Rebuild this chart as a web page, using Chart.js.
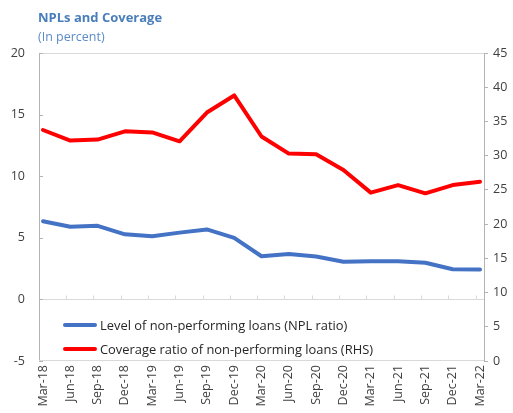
<!DOCTYPE html>
<html>
<head>
<meta charset="utf-8">
<script src="https://cdn.jsdelivr.net/npm/chart.js@4"></script>
<style>
  html, body { margin: 0; padding: 0; background: #fff; }
  #wrap { position: relative; width: 513px; height: 413px; font-family: "Open Sans", "Noto Sans", sans-serif; }
  canvas { position: absolute; left: 0; top: 0; }
  .t1 { position: absolute; left: 38px; top: 8px; font-size: 13px; font-weight: bold; color: #4a7ebb; white-space: nowrap; }
  .t2 { position: absolute; left: 38px; top: 28px; font-size: 12.5px; color: #5b8cc8; white-space: nowrap; }
  .lg { position: absolute; left: 63px; height: 20px; display: flex; align-items: center; font-size: 12.9px; color: #262626; white-space: nowrap; background: #fff; }
  .lg span.sw { display: inline-block; width: 34px; height: 4px; border-radius: 2px; margin-right: 3px; }
</style>
</head>
<body>
<div id="wrap">
  <canvas id="c" width="513" height="413"></canvas>
  <div class="t1">NPLs and Coverage</div>
  <div class="t2">(In percent)</div>
  <div class="lg" id="lg1" style="top:315px;"><span class="sw" style="background:#4472c4"></span>Level of non-performing loans (NPL ratio)</div>
  <div class="lg" id="lg2" style="top:339px;"><span class="sw" style="background:#ff0000"></span>Coverage ratio of non-performing loans (RHS)</div>
</div>
<script>
const categories = ["Mar-18","Jun-18","Sep-18","Dec-18","Mar-19","Jun-19","Sep-19","Dec-19","Mar-20","Jun-20","Sep-20","Dec-20","Mar-21","Jun-21","Sep-21","Dec-21","Mar-22"];
const nplRatio = [6.35, 5.9, 5.97, 5.28, 5.12, 5.42, 5.68, 5.0, 3.5, 3.68, 3.48, 3.05, 3.1, 3.1, 2.98, 2.45, 2.43];
const coverageRatio = [33.75, 32.2, 32.35, 33.55, 33.4, 32.1, 36.3, 38.8, 32.8, 30.3, 30.2, 27.9, 24.6, 25.7, 24.5, 25.7, 26.2];
const leftTicks = [-5, 0, 5, 10, 15, 20];
const rightTicks = [0, 5, 10, 15, 20, 25, 30, 35, 40, 45];

const FONT = { family: '"Open Sans", "Noto Sans", sans-serif', size: 12.5 };
const TICKCOL = '#404040';
const AXISCOL = '#b3b3b3';
const LIGHT = '#d9d9d9';

const framePlugin = {
  id: 'frame',
  beforeDatasetsDraw(chart) {
    const { ctx, chartArea: a, scales } = chart;
    const y = scales.y, x = scales.x;
    ctx.save();
    ctx.lineWidth = 1;
    ctx.strokeStyle = LIGHT;
    ctx.beginPath();
    ctx.moveTo(a.left, Math.round(a.top) + 0.5); ctx.lineTo(a.right, Math.round(a.top) + 0.5);
    ctx.moveTo(a.left, Math.round(a.bottom) - 0.5); ctx.lineTo(a.right, Math.round(a.bottom) - 0.5);
    const y0 = Math.round(y.getPixelForValue(0)) + 0.5;
    ctx.moveTo(a.left, y0); ctx.lineTo(a.right, y0);
    ctx.stroke();
    ctx.beginPath();
    for (let i = 0; i < categories.length - 1; i++) {
      const px = Math.round(x.getPixelForValue(i + 0.84)) + 0.5;
      ctx.moveTo(px, y0); ctx.lineTo(px, y0 - 4);
    }
    ctx.stroke();
    ctx.strokeStyle = AXISCOL;
    ctx.beginPath();
    leftTicks.forEach(v => {
      const py = Math.round(y.getPixelForValue(v)) + 0.5;
      ctx.moveTo(a.left, py); ctx.lineTo(a.left + 4, py);
    });
    ctx.stroke();
    ctx.restore();
  }
};

new Chart(document.getElementById('c'), {
  type: 'line',
  data: {
    datasets: [
      {
        label: 'Level of non-performing loans (NPL ratio)',
        data: nplRatio.map((v, i) => ({ x: i, y: v })),
        borderColor: '#4472c4',
        borderWidth: 4,
        pointRadius: 0,
        tension: 0,
        yAxisID: 'y',
        borderJoinStyle: 'round',
        borderCapStyle: 'round'
      },
      {
        label: 'Coverage ratio of non-performing loans (RHS)',
        data: coverageRatio.map((v, i) => ({ x: i, y: v })),
        borderColor: '#ff0000',
        borderWidth: 4,
        pointRadius: 0,
        tension: 0,
        yAxisID: 'y1',
        borderJoinStyle: 'round',
        borderCapStyle: 'round'
      }
    ]
  },
  options: {
    responsive: false,
    animation: false,
    layout: { padding: { top: 53, left: 0, right: 0, bottom: 0 } },
    plugins: { legend: { display: false }, tooltip: { enabled: false }, title: { display: false } },
    scales: {
      x: {
        type: 'linear',
        min: -0.146,
        max: categories.length - 1 + 0.146,
        afterBuildTicks(scale) { scale.ticks = categories.map((c, i) => ({ value: i })); },
        afterFit(scale) { scale.height = 52; },
        ticks: {
          autoSkip: false,
          minRotation: 90,
          maxRotation: 90,
          padding: 4,
          color: TICKCOL,
          font: { family: FONT.family, size: 12.5 },
          callback: (v, i) => categories[i]
        },
        grid: { display: false, drawTicks: false },
        border: { display: false }
      },
      y: {
        position: 'left',
        min: -5,
        max: 20,
        afterBuildTicks(scale) { scale.ticks = leftTicks.map(v => ({ value: v })); },
        afterFit(scale) { scale.width = 39; },
        ticks: { color: TICKCOL, font: FONT, padding: 14 },
        grid: { display: true, drawOnChartArea: false, drawTicks: false },
        border: { display: true, color: AXISCOL, width: 1 }
      },
      y1: {
        position: 'right',
        min: 0,
        max: 45,
        afterBuildTicks(scale) { scale.ticks = rightTicks.map(v => ({ value: v })); },
        afterFit(scale) { scale.width = 29; },
        ticks: { color: TICKCOL, font: FONT, padding: 5 },
        grid: { display: true, drawOnChartArea: false, drawTicks: true, tickLength: 4, tickColor: AXISCOL },
        border: { display: true, color: AXISCOL, width: 1 }
      }
    }
  },
  plugins: [framePlugin]
});
</script>
</body>
</html>
